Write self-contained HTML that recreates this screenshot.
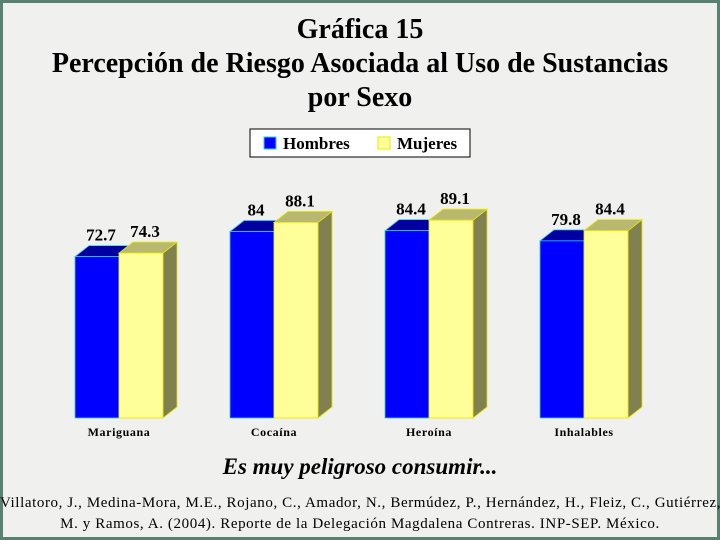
<!DOCTYPE html>
<html><head><meta charset="utf-8"><style>
body{margin:0;width:720px;height:540px;overflow:hidden;font-family:"Liberation Serif",serif;}
#frame{position:absolute;left:0;top:0;width:714px;height:534px;border:3px solid #5a8070;background:#f0f0ee;}
.t{position:absolute;left:0;width:720px;text-align:center;font-weight:bold;color:#000;white-space:nowrap;}
</style></head><body>
<div id="frame"></div>
<div class="t" style="top:14px;font-size:28px">Gráfica 15</div>
<div class="t" style="top:48px;font-size:28px">Percepción de Riesgo Asociada al Uso de Sustancias</div>
<div class="t" style="top:82px;font-size:28px">por Sexo</div>
<svg id="chart" width="720" height="540" style="position:absolute;left:0;top:0"></svg>
<div class="t" style="top:454px;font-size:23px;font-style:italic">Es muy peligroso consumir...</div>
<div class="t" style="top:493px;font-size:15px;font-weight:normal;line-height:21px;letter-spacing:0.6px">Villatoro, J., Medina-Mora, M.E., Rojano, C., Amador, N., Bermúdez, P., Hernández, H., Fleiz, C., Gutiérrez,<br>M. y Ramos, A. (2004). Reporte de la Delegación Magdalena Contreras. INP-SEP. México.</div>
<script>
const categories=["Mariguana","Cocaína","Heroína","Inhalables"];
const hombres=[72.7,84,84.4,79.8];
const mujeres=[74.3,88.1,89.1,84.4];
const seriesNames=["Hombres","Mujeres"];
const NS="http://www.w3.org/2000/svg";
const svg=document.getElementById('chart');
const base=418,scale=2.22,x0=75,step=155,bw=44,dx=14,dy=-11;
const y=v=>base-v*scale;
const xg=i=>x0+i*step;
function mk(tag,attrs,parent){const e=document.createElementNS(NS,tag);for(const k in attrs)e.setAttribute(k,attrs[k]);(parent||svg).appendChild(e);return e;}
const styles=[{front:"#0000ff",top:"#0000a0",side:"#000080",stroke:"#33ccff"},{front:"#ffff99",top:"#b8b870",side:"#808050",stroke:"#e8e800"}];
categories.forEach((c,i)=>{
  [hombres,mujeres].forEach((vals,s)=>{
    const v=vals[i],st=styles[s];
    const x=xg(i)+s*bw,yt=y(v);
    const g=mk('g',{});
    
    
    mk('polygon',{points:`${x+bw},${yt} ${x+bw+dx},${yt+dy} ${x+bw+dx},${base+dy} ${x+bw},${base}`,fill:st.side,stroke:st.stroke,'stroke-width':0.8},g);
    mk('polygon',{points:`${x},${yt} ${x+dx},${yt+dy} ${x+bw+dx},${yt+dy} ${x+bw},${yt}`,fill:st.top,stroke:st.stroke,'stroke-width':0.8},g);
    mk('rect',{x:x,y:yt,width:bw,height:base-yt,fill:st.front,stroke:st.stroke,'stroke-width':0.8},g);
    const t=mk('text',{x:x+bw/2+4,y:yt+dy-5,'text-anchor':'middle','font-size':17,'font-weight':'bold','font-family':'Liberation Serif, serif'});
    t.textContent=String(v);
    
    
  });
  const l=mk('text',{x:xg(i)+bw,y:436,'text-anchor':'middle','font-size':12,'font-weight':'bold','font-family':'Liberation Serif, serif','letter-spacing':'0.6'});
  l.textContent=c;
  
  
});
const lg=mk('g',{});


mk('rect',{x:250,y:129,width:220,height:28,fill:'#fff',stroke:'#000','stroke-width':1},lg);
seriesNames.forEach((n,s)=>{
  const lx=264+s*114;
  const sw=mk('rect',{x:lx,y:137,width:12,height:12,fill:styles[s].front,stroke:styles[s].stroke},lg);
  
  
  const t=mk('text',{x:lx+19,y:149,'font-size':17,'font-weight':'bold','font-family':'Liberation Serif, serif'},lg);
  t.textContent=n;
  
  
});
</script>
</body></html>
